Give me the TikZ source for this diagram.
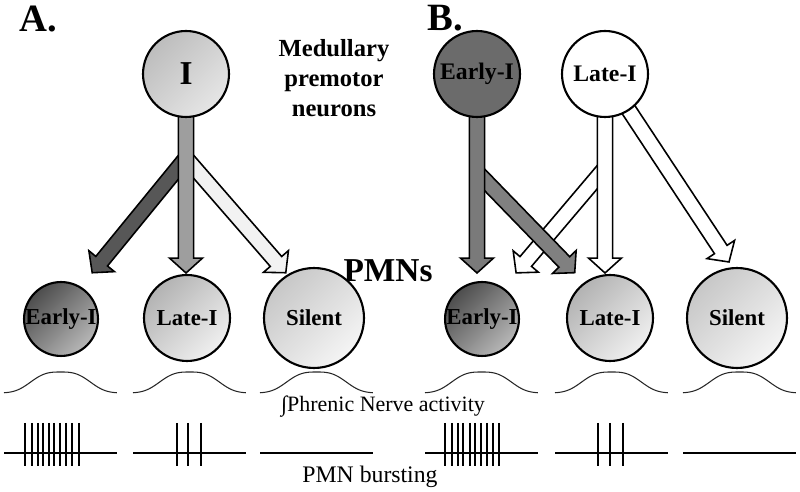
\documentclass[tikz,border=0pt]{standalone}
\usepackage{fontspec}
\setmainfont{Liberation Serif}
\usetikzlibrary{calc,backgrounds}
\tikzset{
    % Define style for the neuron circles
    neuron/.style={
           circle,
           draw=black, line width=1.2pt,
           inner sep=0pt,
           text centered,
           font=\bfseries\fontsize{13}{15}\selectfont},
    earlyc/.style={neuron, minimum size=1.44cm,
           top color=black!70, bottom color=black!28, shading angle=45},
    latec/.style={neuron, minimum size=1.72cm,
           top color=black!30, bottom color=black!6, shading angle=45},
    silentc/.style={neuron, minimum size=2cm,
           top color=black!22, bottom color=black!4, shading angle=45},
    % Define style for the block arrows
    fatarr/.style={draw=black, line width=0.9pt, line join=miter},
    % Define style for the recordings
    trace/.style={black!85, line width=0.6pt},
    burst/.style={black, line width=1.3pt},
    spike/.style={black, line width=0.6pt}
}
% block arrow: fill, from, to
\newcommand{\fatarrow}[3]{%
  \path[fatarr, fill=#1] let \p1=($(#3)-(#2)$), \n1={atan2(\y1,\x1)}, \n2={veclen(\x1,\y1)} in
    [shift={(#2)}, rotate=\n1] (0pt,-4.3pt) -- ({\n2*1pt-8.5pt},-4.3pt) -- ({\n2*1pt-8.5pt},-9.4pt)
    -- ({\n2*1pt},0pt) -- ({\n2*1pt-8.5pt},9.4pt) -- ({\n2*1pt-8.5pt},4.3pt) -- (0pt,4.3pt) -- cycle;}
% integrated phrenic trace starting at x
\newcommand{\phrenic}[1]{%
  \draw[trace] plot[domain=0:1, samples=70, smooth] ({#1+113*\x},{393-21*exp(-pow(abs(\x-0.5)/0.305,3))});}
% PMN bursting trace starting at x, with spikes at the given list
\newcommand{\bursting}[2]{%
  \draw[burst] (#1,453) -- (#1+113,453);
  \foreach \s in {#2} {\draw[spike] (\s,423) -- (\s,466);}}

\begin{document}
\begin{tikzpicture}[x=0.02cm, y=-0.02cm]
\useasboundingbox (0,0) rectangle (800,492);

% labels
\node[anchor=base west, inner sep=0pt, font=\bfseries\fontsize{22}{22}\selectfont] (labA) at (19,32) {A.};
\node[anchor=base west, inner sep=0pt, font=\bfseries\fontsize{22}{22}\selectfont] (labB) at (427,31) {B.};
\node[align=center, font=\bfseries\fontsize{14}{17}\selectfont] (medul) at (334,78) {Medullary\\premotor\\neurons};
\node[anchor=base, inner sep=0pt, font=\bfseries\fontsize{19}{19}\selectfont] (pmns) at (388,282) {PMNs};

% premotor neurons
\node[neuron, minimum size=1.72cm, top color=black!26, bottom color=black!10, shading angle=45,
      font=\bfseries\fontsize{19}{19}\selectfont] (I) at (186,74) {I};
\node[neuron, minimum size=1.72cm, fill=black!58, font=\bfseries\fontsize{13.5}{15}\selectfont] (preE) at (477,74) {Early-I};
\node[neuron, minimum size=1.72cm, fill=white, font=\bfseries\fontsize{13.5}{15}\selectfont] (preL) at (605,74) {Late-I};

% PMNs
\node[earlyc] (eA) at (61,319) {Early-I};
\node[latec] (lA) at (187,318) {Late-I};
\node[silentc] (sA) at (314,318) {Silent};
\node[earlyc] (eB) at (482,319) {Early-I};
\node[latec] (lB) at (610,318) {Late-I};
\node[silentc] (sB) at (737,318) {Silent};

% arrow ends
\coordinate (brA) at (186,158);
\coordinate (tA1) at (92,273);
\coordinate (tA2) at (186,273);
\coordinate (tA3) at (286,273);
\coordinate (brB1) at (477,172);
\coordinate (brB2) at (605,168);
\coordinate (tB1) at (477,273);
\coordinate (tB2) at (575,273);
\coordinate (tB3) at (516,273);
\coordinate (tB4) at (605,273);
\coordinate (tB5) at (729,262);

\begin{pgfonlayer}{background}
\fatarrow{black!66}{brA}{tA1}
\fatarrow{black!5}{brA}{tA3}
\fatarrow{black!38}{I.center}{tA2}
\fatarrow{white}{brB2}{tB3}
\fatarrow{black!50}{brB1}{tB2}
\fatarrow{black!52}{preE.center}{tB1}
\fatarrow{white}{preL.center}{tB4}
\fatarrow{white}{preL.center}{tB5}
\end{pgfonlayer}

% recordings
\phrenic{4} \phrenic{133} \phrenic{260}
\phrenic{425} \phrenic{555} \phrenic{683}
\bursting{4}{25,32,38,43,49,54,60,66,72,79}
\bursting{133}{177,188,201}
\bursting{260}{}
\bursting{425}{445,452,458,463,470,475,481,487,493,499}
\bursting{555}{598,610,623}
\bursting{683}{}

\node[anchor=base, inner sep=0pt, font=\fontsize{12.5}{14}\selectfont] (phr) at (383,412) {∫Phrenic Nerve activity};
\node[anchor=base, inner sep=0pt, font=\fontsize{13.5}{15}\selectfont] (pmnb) at (370,482) {PMN bursting};
\end{tikzpicture}
\end{document}
